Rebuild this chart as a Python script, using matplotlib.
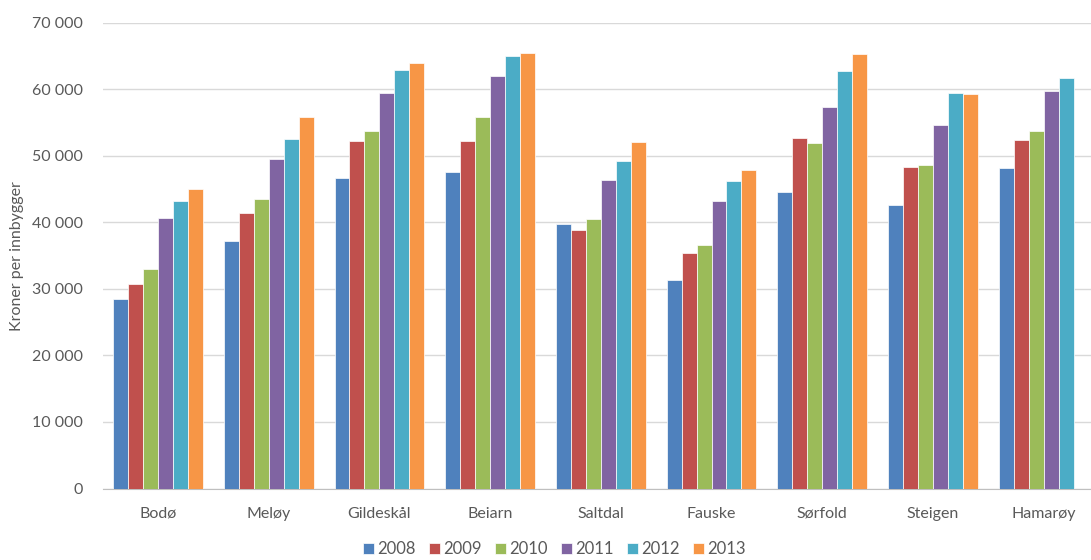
import numpy as np
import matplotlib
matplotlib.use("Agg")
import matplotlib.pyplot as plt
from matplotlib.ticker import FuncFormatter, MultipleLocator

categories = ["Bodø", "Meløy", "Gildeskål", "Beiarn", "Saltdal", "Fauske", "Sørfold", "Steigen", "Hamarøy"]
years = ["2008", "2009", "2010", "2011", "2012", "2013"]
v2008 = [28540, 37220, 46690, 47590, 39820, 31350, 44630, 42580, 48150]
v2009 = [30750, 41430, 52210, 52210, 38820, 35410, 52710, 48350, 52410]
v2010 = [32960, 43490, 53710, 55760, 40530, 36570, 51950, 48600, 53710]
v2011 = [40680, 49500, 59430, 62030, 46390, 43190, 57370, 54610, 59730]
v2012 = [43190, 52560, 62930, 64990, 49150, 46240, 62780, 59430, 61730]
v2013 = [44940, 55760, 63980, 65440, 52110, 47850, 65290, 59280, np.nan]
series = [v2008, v2009, v2010, v2011, v2012, v2013]
colors = ["#4F81BD", "#C0504D", "#9BBB59", "#8064A2", "#4BACC6", "#F79646"]

plt.rcParams['font.family'] = ['Lato', 'DejaVu Sans']
txt = "#595959"

fig = plt.figure(figsize=(10.91, 5.60), dpi=100)
W, H = 1091, 560
left_px, right_px = 102.6, 1099.0
top_px, bot_px = 22.7, 488.5
ax = fig.add_axes([left_px / W, 1 - bot_px / H, (right_px - left_px) / W, (bot_px - top_px) / H])

x = np.arange(len(categories))
n = len(series)
bw = 0.81 / n
for i, (vals, c, yr) in enumerate(zip(series, colors, years)):
    ax.bar(x + (i - (n - 1) / 2) * bw, vals, width=bw, color=c, label=yr,
           edgecolor="white", linewidth=0.5, zorder=3)

ax.set_xlim(-0.5, len(categories) - 0.5)
ax.set_ylim(0, 70000)
ax.yaxis.set_major_locator(MultipleLocator(10000))
ax.yaxis.set_major_formatter(FuncFormatter(lambda v, p: f"{int(v):,}".replace(",", " ")))
ax.grid(axis="y", color="#D9D9D9", linewidth=1, zorder=0)
ax.set_axisbelow(True)
for s in ["top", "right", "left"]:
    ax.spines[s].set_visible(False)
ax.spines["bottom"].set_color("#BFBFBF")
ax.tick_params(axis="both", length=0, labelsize=11.5, colors=txt)
ax.tick_params(axis="x", pad=13)
ax.tick_params(axis="y", pad=14)
ax.set_xticks(x)
ax.set_xticklabels(categories)
ax.set_ylabel("Kroner per innbygger", fontsize=11.5, color=txt, labelpad=6)

handles, labels = ax.get_legend_handles_labels()
fig.legend(handles, labels, loc="center", bbox_to_anchor=(554 / W, 1 - 549 / H), ncol=6,
           frameon=False, fontsize=12, handlelength=0.65, handleheight=0.65,
           handletextpad=0.2, columnspacing=0.8, labelcolor=txt)

fig.savefig("out.png", dpi=100)
